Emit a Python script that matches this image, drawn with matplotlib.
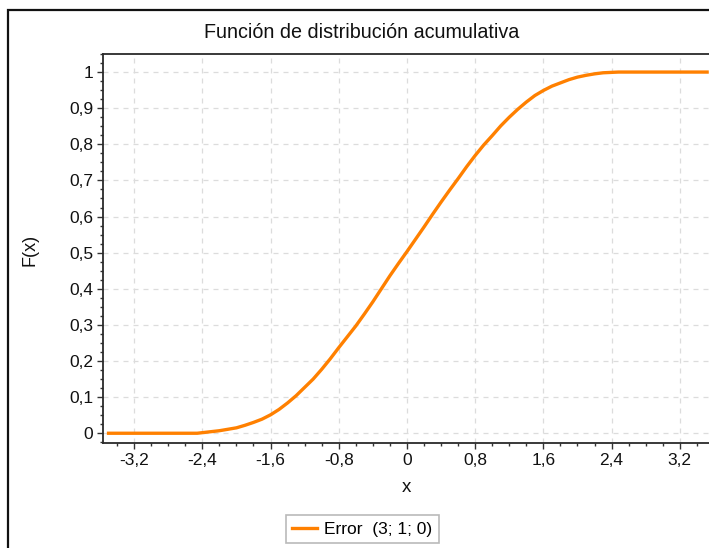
import matplotlib
matplotlib.use("Agg")
import matplotlib.pyplot as plt
from matplotlib.ticker import MultipleLocator, FuncFormatter
from matplotlib.patches import Rectangle

plt.rcParams['font.family'] = ['Liberation Sans', 'DejaVu Sans']

# Cumulative distribution function of the Error(3; 1; 0) distribution
x_vals = [-3.50, -2.46, -2.20, -2.10, -2.00, -1.90, -1.80, -1.70, -1.60,
          -1.50, -1.40, -1.30, -1.20, -1.10, -1.00, -0.90, -0.80, -0.70,
          -0.60, -0.50, -0.40, -0.30, -0.20, -0.10, 0.00, 0.10, 0.20,
          0.30, 0.40, 0.50, 0.60, 0.70, 0.80, 0.90, 1.00, 1.10, 1.20,
          1.30, 1.40, 1.50, 1.60, 1.70, 1.80, 1.90, 2.00, 2.10, 2.20,
          2.30, 2.48, 3.52]
f_vals = [0.000, 0.000, 0.007, 0.011, 0.015, 0.022, 0.030, 0.039, 0.051,
          0.066, 0.084, 0.104, 0.127, 0.150, 0.177, 0.206, 0.237, 0.267,
          0.297, 0.330, 0.364, 0.400, 0.436, 0.470, 0.503, 0.537, 0.571,
          0.606, 0.640, 0.673, 0.705, 0.738, 0.769, 0.798, 0.824, 0.851,
          0.875, 0.897, 0.917, 0.935, 0.949, 0.961, 0.970, 0.979, 0.986,
          0.991, 0.995, 0.998, 1.000, 1.000]

series_label = "Error  (3; 1; 0)"
title_text = "Función de distribución acumulativa"
x_label = "x"
y_label = "F(x)"

W, H = 709, 548
fig = plt.figure(figsize=(W / 100, H / 100), dpi=100)

# outer chart frame
fig.patches.append(Rectangle((8 / W, -0.05), 1.2, 1 - 10 / H + 0.05,
                             transform=fig.transFigure, fill=False,
                             edgecolor='#111111', linewidth=1.6))

ax = fig.add_axes([103 / W, 1 - 443 / H, 607.5 / W, (443 - 54) / H])
ax.plot(x_vals, f_vals, color='#FF8000', linewidth=2.4,
        solid_joinstyle='round', label=series_label, zorder=3)

ax.set_xlim(-3.565, 3.56)
ax.set_ylim(-0.027, 1.05)

ax.xaxis.set_major_locator(MultipleLocator(0.8))
ax.xaxis.set_minor_locator(MultipleLocator(0.2))
ax.yaxis.set_major_locator(MultipleLocator(0.1))
ax.yaxis.set_minor_locator(MultipleLocator(0.025))


def comma_fmt(v, pos):
    s = f"{v:.1f}".rstrip('0').rstrip('.')
    if s in ("-0", ""):
        s = "0"
    return s.replace('.', ',')


ax.xaxis.set_major_formatter(FuncFormatter(comma_fmt))
ax.yaxis.set_major_formatter(FuncFormatter(comma_fmt))

ax.tick_params(which='major', direction='out', length=4, width=1,
               color='#333333', labelsize=12.5, pad=3, labelcolor='#111111')
ax.tick_params(which='minor', direction='out', length=2.5, width=1,
               color='#333333')

ax.grid(which='major', color='#dcdcdc', linestyle=(0, (4, 4)), linewidth=0.9)
ax.set_axisbelow(True)

for side in ('left', 'bottom', 'top', 'right'):
    ax.spines[side].set_color('#2a2a2a')
    ax.spines[side].set_linewidth(1.3)

fig.text(362 / W, 1 - 33 / H, title_text, ha='center', va='center',
         fontsize=14.2, color='#111111')
fig.text(406 / W, 1 - 487 / H, x_label, ha='center', va='center',
         fontsize=13.5, color='#111111')
fig.text(30 / W, 1 - 250 / H, y_label, ha='center', va='center',
         fontsize=13, color='#111111', rotation=90)

leg = fig.legend(loc='center', bbox_to_anchor=(362.5 / W, 1 - 529 / H),
                 fontsize=12.5, frameon=True, fancybox=False, shadow=False,
                 handlelength=1.4, handletextpad=0.45, borderpad=0.35,
                 borderaxespad=0)
leg.get_frame().set_edgecolor('#a8a8a8')
leg.get_frame().set_linewidth(1.2)

fig.savefig("out.png", dpi=100)
